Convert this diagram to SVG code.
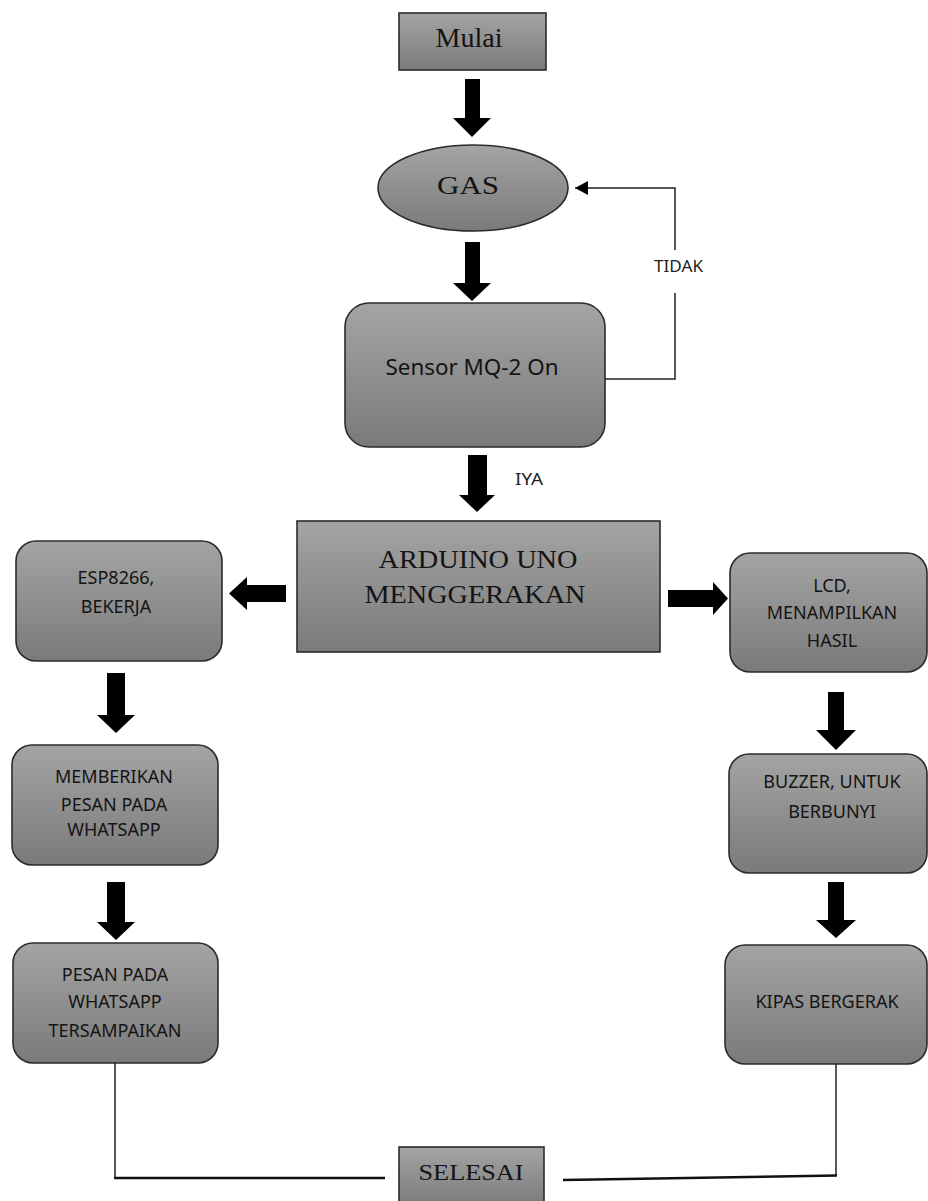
<svg xmlns="http://www.w3.org/2000/svg" width="928" height="1201" viewBox="0 0 928 1201">
<defs>
<linearGradient id="g" x1="0" y1="0" x2="0" y2="1">
<stop offset="0" stop-color="#a4a4a4"/>
<stop offset="1" stop-color="#7a7a7a"/>
</linearGradient>
<marker id="ah" markerWidth="14" markerHeight="14" refX="13" refY="7" orient="auto" markerUnits="userSpaceOnUse">
<path d="M0,0 L13,7 L0,14 Z" fill="#000"/>
</marker>
</defs>
<style>
.box{fill:url(#g);stroke:#2b2b2b;stroke-width:1.6}
.serif{font-family:"Liberation Serif","Times New Roman",serif;fill:#141414;text-anchor:middle}
.sans{font-family:"Noto Sans","Open Sans",sans-serif;fill:#141414;text-anchor:middle;font-size:18px}
.lbl{font-family:"Noto Sans","Open Sans",sans-serif;fill:#222;font-size:16px}
.blk{fill:#000}
.ln{fill:none;stroke:#222;stroke-width:1.5}
</style>
<rect width="928" height="1201" fill="#fff"/>

<g id="mulai">
<rect class="box" x="399" y="13" width="147" height="57"/>
<text class="serif" x="469" y="47" font-size="27" textLength="67" lengthAdjust="spacingAndGlyphs">Mulai</text>
</g>

<g id="gas">
<ellipse class="box" cx="473" cy="188" rx="95" ry="43"/>
<text class="serif" x="468" y="194" font-size="25" textLength="62" lengthAdjust="spacingAndGlyphs">GAS</text>
</g>

<g id="sensor">
<rect class="box" x="345" y="303" width="260" height="144" rx="24"/>
<text class="sans" x="472" y="375" style="font-size:21px" textLength="173" lengthAdjust="spacingAndGlyphs">Sensor MQ-2 On</text>
</g>

<g id="arduino">
<rect class="box" x="297" y="521" width="363" height="131"/>
<text class="serif" x="478" y="568" font-size="25" textLength="199" lengthAdjust="spacingAndGlyphs">ARDUINO UNO</text>
<text class="serif" x="475" y="603" font-size="25" textLength="221" lengthAdjust="spacingAndGlyphs">MENGGERAKAN</text>
</g>

<g id="esp">
<rect class="box" x="16" y="541" width="206" height="120" rx="20"/>
<text class="sans" x="116" y="584">ESP8266,</text>
<text class="sans" x="116" y="613">BEKERJA</text>
</g>

<g id="lcd">
<rect class="box" x="730" y="553" width="197" height="119" rx="20"/>
<text class="sans" x="832" y="592">LCD,</text>
<text class="sans" x="832" y="619">MENAMPILKAN</text>
<text class="sans" x="832" y="647">HASIL</text>
</g>

<g id="memberikan">
<rect class="box" x="12" y="745" width="206" height="120" rx="20"/>
<text class="sans" x="114" y="783">MEMBERIKAN</text>
<text class="sans" x="114" y="811">PESAN PADA</text>
<text class="sans" x="114" y="836">WHATSAPP</text>
</g>

<g id="pesan">
<rect class="box" x="13" y="943" width="205" height="120" rx="20"/>
<text class="sans" x="115" y="981">PESAN PADA</text>
<text class="sans" x="115" y="1008">WHATSAPP</text>
<text class="sans" x="115" y="1037">TERSAMPAIKAN</text>
</g>

<g id="buzzer">
<rect class="box" x="729" y="754" width="198" height="119" rx="20"/>
<text class="sans" x="832" y="788">BUZZER, UNTUK</text>
<text class="sans" x="832" y="818">BERBUNYI</text>
</g>

<g id="kipas">
<rect class="box" x="725" y="945" width="202" height="119" rx="20"/>
<text class="sans" x="827" y="1008">KIPAS BERGERAK</text>
</g>

<g id="selesai">
<rect class="box" x="399" y="1147" width="145" height="60"/>
<text class="serif" x="471" y="1180" font-size="24" textLength="105" lengthAdjust="spacingAndGlyphs">SELESAI</text>
</g>

<g id="connectors">
<path class="blk" d="M465,79 H480 V118 H491 L472,137 L453,118 H465 Z"/>
<path class="blk" d="M465,242 H480 V283 H491 L472,301 L453,283 H465 Z"/>
<path class="blk" d="M468,455 H487 V495 H495 L477,512 L459,495 H468 Z"/>
<path class="blk" d="M107,673 H125 V715 H135 L116,733 L97,715 H107 Z"/>
<path class="blk" d="M107,882 H125 V922 H135 L116,940 L97,922 H107 Z"/>
<path class="blk" d="M828,692 H844 V730 H856 L836,750 L816,730 H828 Z"/>
<path class="blk" d="M828,882 H844 V920 H856 L836,938 L816,920 H828 Z"/>
<path class="blk" d="M286,585 V602 H247 V610 L229,593.5 L247,577 V585 Z"/>
<path class="blk" d="M668,590 V607 H713 V615 L728,598.5 L713,582 V590 Z"/>
<path class="ln" d="M605,379 H675 V293"/>
<path class="ln" d="M675,250 V188 H575" marker-end="url(#ah)"/>
<text class="lbl" x="654" y="272" textLength="49" lengthAdjust="spacingAndGlyphs">TIDAK</text>
<text class="lbl" x="515" y="485" textLength="28" lengthAdjust="spacingAndGlyphs">IYA</text>
<path class="ln" d="M115,1063 V1178"/>
<path d="M114,1178 H385" stroke="#111" stroke-width="2.5" fill="none"/>
<path class="ln" d="M836,1064 V1176"/>
<path d="M837,1175.5 L563,1180" stroke="#111" stroke-width="2.5" fill="none"/>
</g>
</svg>
